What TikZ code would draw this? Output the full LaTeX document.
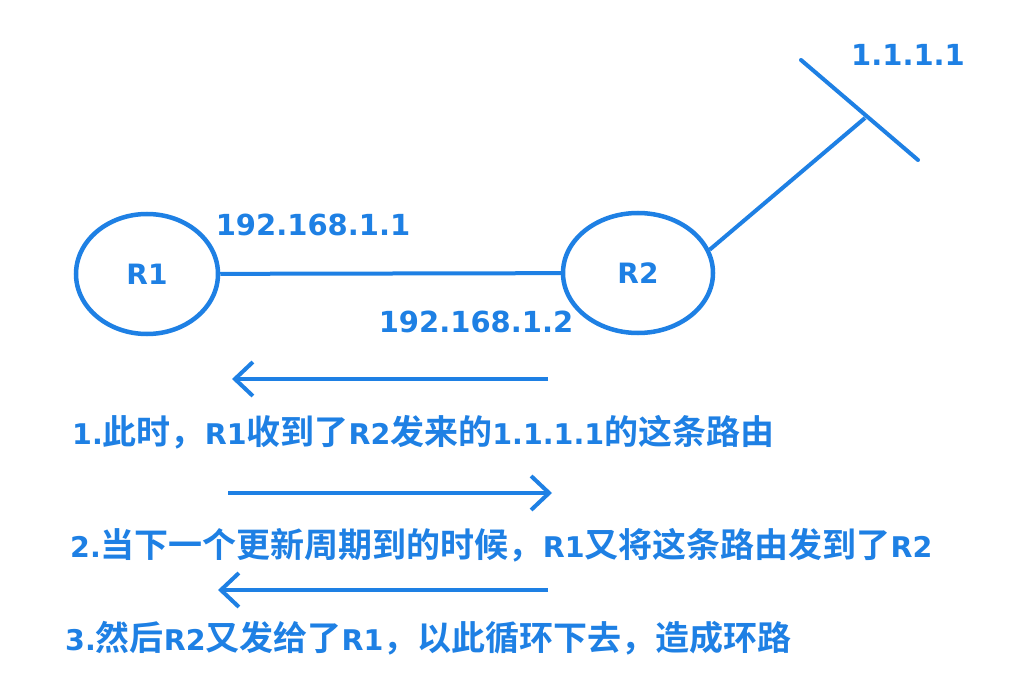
\documentclass[tikz,border=0pt]{standalone}
\usepackage{fontspec}
\usetikzlibrary{arrows.meta,shapes.geometric}
\setmainfont{DejaVu Sans}
\newfontfamily\cjkfont{Noto Sans CJK SC}[BoldFont={Noto Sans CJK SC Bold}]
\definecolor{netblue}{RGB}{30,128,228}
\newcommand\zh[1]{{\cjkfont\bfseries\fontsize{34}{34}\selectfont #1}}
\newcommand\lt[1]{{\bfseries\fontsize{28.5}{28.5}\selectfont #1}}
\begin{document}
\begin{tikzpicture}[x=1pt,y=-1pt,
  router/.style={ellipse,draw=netblue,line width=4.5pt,minimum width=142pt,minimum height=120pt,inner sep=0pt,text=netblue,font=\bfseries\fontsize{28}{28}\selectfont},
  link/.style={draw=netblue,line width=4pt},
  lbl/.style={text=netblue,inner sep=0pt,font=\bfseries\fontsize{29}{29}\selectfont},
  txt/.style={text=netblue,inner sep=0pt,anchor=west},
  flow/.style={draw=netblue,line width=4.5pt,-{Straight Barb[length=18pt,width=34pt,line width=4pt]}}]
\useasboundingbox (0,0) rectangle (1026,690);
\fill[white] (0,0) rectangle (1026,690);
% routers
\node[router] (R1) at (147,274) {R1};
\node[router,minimum width=150pt] (R2) at (638,273) {R2};
\draw[link] (R1) -- (R2);
% network 1.1.1.1
\coordinate (T) at (865,118);
\coordinate (N1) at (801,60);
\coordinate (N2) at (918,160);
\draw[link] (R2.18) -- (T);
\draw[link,line cap=round] (N1) -- (N2);
% labels
\node[lbl] (ip1) at (313,225) {192.168.1.1};
\node[lbl] (ip2) at (476,322) {192.168.1.2};
\node[lbl] (net) at (908,55) {1.1.1.1};
% arrows
\coordinate (a1s) at (548,379); \coordinate (a1e) at (232,379);
\coordinate (a2s) at (228,493); \coordinate (a2e) at (552,493);
\coordinate (a3s) at (548,590); \coordinate (a3e) at (218,590);
\draw[flow] (a1s) -- (a1e);
\draw[flow] (a2s) -- (a2e);
\draw[flow] (a3s) -- (a3e);
% texts
\node[txt] (t1) at (72,432) {\lt{1.}\zh{此时，}\lt{R1}\zh{收到了}\lt{R2}\zh{发来的}\lt{1.1.1.1}\zh{的这条路由}};
\node[txt] (t2) at (70,545) {\lt{2.}\zh{当下一个更新周期到的时候，}\lt{R1}\zh{又将这条路由发到了}\lt{R2}};
\node[txt] (t3) at (65,638) {\lt{3.}\zh{然后}\lt{R2}\zh{又发给了}\lt{R1}\zh{，以此循环下去，造成环路}};
\end{tikzpicture}
\end{document}
